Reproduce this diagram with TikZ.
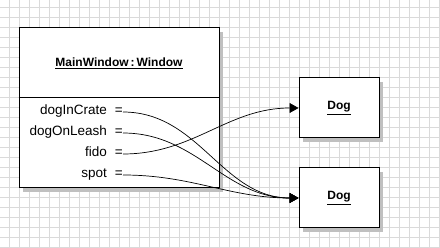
\documentclass[tikz,border=0pt]{standalone}
\usepackage{fontspec}
\setmainfont{Liberation Sans}
\usetikzlibrary{arrows.meta,shadows}
\definecolor{gridgray}{RGB}{218,218,218}
\definecolor{shadowgray}{RGB}{192,192,192}
\tikzset{
  gridline/.style={draw=gridgray, line width=0.8pt},
  objbox/.style={draw=black, fill=white, line width=1pt, inner sep=0pt,
    drop shadow={shadow xshift=4pt, shadow yshift=-4pt, fill=shadowgray, opacity=1}},
  attrlabel/.style={anchor=east, inner sep=0pt, text height=7pt, text depth=1pt,
    font=\fontsize{13.5}{15}\selectfont},
  link/.style={line width=0.7pt, -{Triangle[length=9pt,width=10pt]}},
}
\newcommand{\objname}[1]{\underline{\textbf{#1}}}

\begin{document}
\begin{tikzpicture}[x=1pt, y=-1pt, font=\fontsize{12}{14}\selectfont]
  \useasboundingbox (0,0) rectangle (440,248);
  \fill[white] (0,0) rectangle (440,248);
  % background grid
  \foreach \x in {9,19,...,439}
    \draw[gridline] (\x,0) -- (\x,248);
  \foreach \y in {7,17,...,247}
    \draw[gridline] (0,\y) -- (440,\y);

  % objects
  \node[objbox, minimum width=200pt, minimum height=160pt] (win) at (119,108) {};
  \draw[line width=1pt] ([yshift=-70pt]win.north west) -- ([yshift=-70pt]win.north east);
  \node (wintitle) at (119,63) {\objname{MainWindow\,:\,Window}};
  \node[objbox, minimum width=80pt, minimum height=60pt] (dogA) at (339,108) {\objname{Dog}};
  \node[objbox, minimum width=80pt, minimum height=60pt] (dogB) at (339,198) {\objname{Dog}};

  % fields
  \node[attrlabel] (crate) at (123,112) {dogInCrate\hspace{8pt}=};
  \node[attrlabel] (leash) at (123,133) {dogOnLeash\hspace{8pt}=};
  \node[attrlabel] (fido) at (123,154) {fido\hspace{8pt}=};
  \node[attrlabel] (spot) at (123,175) {spot\hspace{8pt}=};

  % references
  \draw[link] (crate.east) to[out=0, in=180] (dogB.west);
  \draw[link] (leash.east) to[out=0, in=180] (dogB.west);
  \draw[link] (fido.east) to[out=0, in=180] (dogA.west);
  \draw[link] (spot.east) to[out=0, in=180] (dogB.west);
\end{tikzpicture}
\end{document}
